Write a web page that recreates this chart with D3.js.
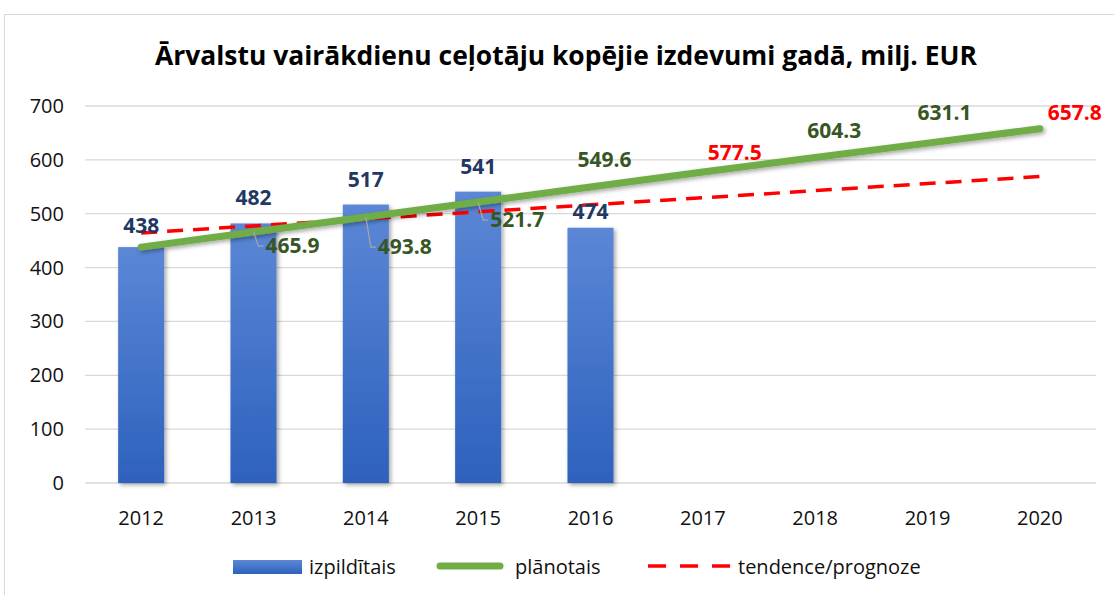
<!DOCTYPE html>
<html>
<head>
<meta charset="utf-8">
<script src="https://cdn.jsdelivr.net/npm/d3@7"></script>
<style>
  body { margin: 0; background: #fff; }
  text { font-family: "Open Sans", "Noto Sans", sans-serif; }
</style>
</head>
<body>
<svg id="viz" width="1114" height="595"></svg>
<script>
// data
const years = ["2012", "2013", "2014", "2015", "2016", "2017", "2018", "2019", "2020"];
const actual = [438, 482, 517, 541, 474];
const planned = [438, 465.9, 493.8, 521.7, 549.6, 577.5, 604.3, 631.1, 657.8];
const trend = [464.2, 477.3, 490.4, 503.5, 516.6, 529.7, 542.8, 555.9, 569.0];
const yTicks = [0, 100, 200, 300, 400, 500, 600, 700];

// label placement (offsets from the point), not data
const barLabelDy = [-21, -26, -25, -25, -16];
const plannedLabelPos = [
  null,
  { dx: 12, dy: 14, leader: true },
  { dx: 12, dy: 30, leader: true },
  { dx: 12, dy: 18, leader: true },
  { dx: 14, dy: -27 },
  { dx: 32, dy: -19, red: true },
  { dx: 19, dy: -27 },
  { dx: 17, dy: -30 },
  { dx: 35, dy: -16, red: true }
];

const width = 1114, height = 595;
const margin = { top: 106, right: 18, bottom: 112, left: 85 };
const svg = d3.select("#viz");

const defs = svg.append("defs");
const shadow = defs.append("filter").attr("id", "shadow")
  .attr("x", "-20%").attr("y", "-20%").attr("width", "150%").attr("height", "150%");
shadow.append("feDropShadow").attr("dx", 2).attr("dy", 2).attr("stdDeviation", 2)
  .attr("flood-color", "#000").attr("flood-opacity", 0.35);
const grad = defs.append("linearGradient").attr("id", "barGrad")
  .attr("x1", 0).attr("y1", 0).attr("x2", 0).attr("y2", 1);
grad.append("stop").attr("offset", "0%").attr("stop-color", "#5b87d6");
grad.append("stop").attr("offset", "100%").attr("stop-color", "#2e61bd");

// outer frame
svg.append("rect").attr("x", 4.5).attr("y", 14.5).attr("width", 1120).attr("height", 600)
  .attr("fill", "#fff").attr("stroke", "#d9d9d9");

const x = d3.scaleBand().domain(years).range([margin.left, width - margin.right]);
const y = d3.scaleLinear().domain([0, 700]).range([height - margin.bottom, margin.top]);
const cx = d => x(d) + x.bandwidth() / 2;

// gridlines
svg.append("g").selectAll("line").data(yTicks).join("line")
  .attr("x1", margin.left).attr("x2", width - margin.right)
  .attr("y1", d => y(d)).attr("y2", d => y(d))
  .attr("stroke", "#d9d9d9").attr("stroke-width", 1.3);

// y axis labels
svg.append("g").selectAll("text").data(yTicks).join("text")
  .attr("x", 64).attr("y", d => y(d)).attr("dy", "0.35em")
  .attr("text-anchor", "end").attr("font-size", 20).attr("fill", "#111")
  .text(d => d);

// x axis labels
svg.append("g").selectAll("text").data(years).join("text")
  .attr("x", d => cx(d)).attr("y", 518).attr("dy", "0.35em")
  .attr("text-anchor", "middle").attr("font-size", 20).attr("fill", "#111")
  .text(d => d);

// bars
const barW = x.bandwidth() * 0.41;
svg.append("g").selectAll("rect").data(actual).join("rect")
  .attr("x", (d, i) => cx(years[i]) - barW / 2)
  .attr("y", d => y(d))
  .attr("width", barW)
  .attr("height", d => y(0) - y(d))
  .attr("fill", "url(#barGrad)")
  .attr("filter", "url(#shadow)");

// trend line (dashed)
svg.append("path").datum(trend)
  .attr("fill", "none").attr("stroke", "#ff0000").attr("stroke-width", 3.5)
  .attr("stroke-dasharray", "16,10")
  .attr("d", d3.line().x((d, i) => cx(years[i])).y(d => y(d)));

// planned line
svg.append("path").datum(planned)
  .attr("fill", "none").attr("stroke", "#70ad47").attr("stroke-width", 7)
  .attr("stroke-linecap", "round")
  .attr("filter", "url(#shadow)")
  .attr("d", d3.line().x((d, i) => cx(years[i])).y(d => y(d)));

// bar labels
svg.append("g").selectAll("text").data(actual).join("text")
  .attr("x", (d, i) => cx(years[i])).attr("y", (d, i) => y(d) + barLabelDy[i]).attr("dy", "0.35em")
  .attr("text-anchor", "middle").attr("font-size", 21).attr("font-weight", "bold")
  .attr("fill", "#1f3864")
  .text(d => d);

// planned labels with leader lines
const pl = svg.append("g");
planned.forEach((v, i) => {
  const p = plannedLabelPos[i];
  if (!p) return;
  const px = cx(years[i]), py = y(v);
  const lx = px + p.dx, ly = py + p.dy;
  if (p.leader) {
    pl.append("path")
      .attr("d", `M${px},${py} L${px + 5},${ly} L${lx - 2},${ly}`)
      .attr("fill", "none").attr("stroke", "#a6a6a6").attr("stroke-width", 1.2);
  }
  pl.append("text")
    .attr("x", lx).attr("y", ly).attr("dy", "0.35em")
    .attr("text-anchor", p.leader ? "start" : "middle")
    .attr("font-size", 21).attr("font-weight", "bold")
    .attr("fill", p.red ? "#ff0000" : "#375623")
    .text(v.toFixed(1));
});

// title
svg.append("text")
  .attr("x", 566).attr("y", 56).attr("dy", "0.35em")
  .attr("text-anchor", "middle").attr("font-size", 27).attr("font-weight", "bold")
  .attr("fill", "#000")
  .attr("textLength", 822).attr("lengthAdjust", "spacingAndGlyphs")
  .text("Ārvalstu vairākdienu ceļotāju kopējie izdevumi gadā, milj. EUR");

// legend
const lg = svg.append("g");
lg.append("rect").attr("x", 233).attr("y", 560).attr("width", 69).attr("height", 14)
  .attr("fill", "url(#barGrad)");
lg.append("text").attr("x", 309).attr("y", 567).attr("dy", "0.35em")
  .attr("font-size", 20).attr("fill", "#111").text("izpildītais");
lg.append("line").attr("x1", 440).attr("x2", 500).attr("y1", 566).attr("y2", 566)
  .attr("stroke", "#70ad47").attr("stroke-width", 7).attr("stroke-linecap", "round");
lg.append("text").attr("x", 515).attr("y", 567).attr("dy", "0.35em")
  .attr("font-size", 20).attr("fill", "#111").text("plānotais");
lg.append("line").attr("x1", 648).attr("x2", 730).attr("y1", 566).attr("y2", 566)
  .attr("stroke", "#ff0000").attr("stroke-width", 3.5).attr("stroke-dasharray", "18,14");
lg.append("text").attr("x", 738).attr("y", 567).attr("dy", "0.35em")
  .attr("font-size", 20).attr("fill", "#111").text("tendence/prognoze");
</script>
</body>
</html>
